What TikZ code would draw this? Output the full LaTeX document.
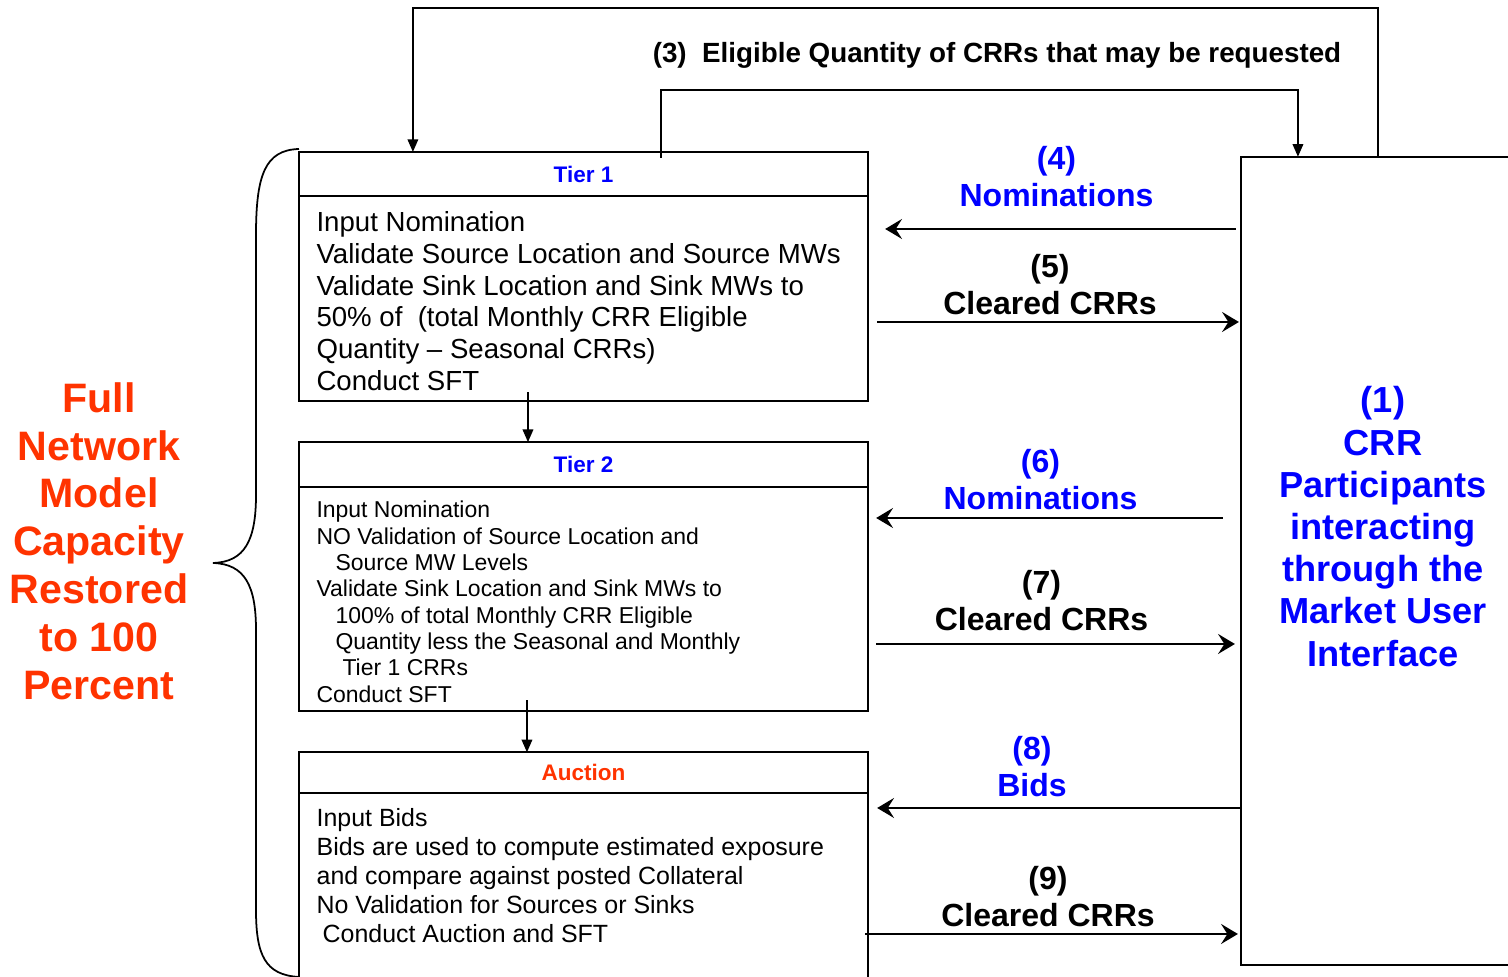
\documentclass[tikz,border=0pt]{standalone}
\usepackage{fontspec}
\setmainfont{Liberation Sans}
\usetikzlibrary{arrows.meta,positioning,calc}
\definecolor{crrblue}{RGB}{0,0,255}
\definecolor{crrred}{RGB}{255,51,0}

\begin{document}
\begin{tikzpicture}[x=0.01cm,y=-0.01cm,
    box/.style={draw,line width=0.6pt,minimum width=5.69cm,inner sep=0pt,outer sep=0pt},
    head/.style={box,font=\fontsize{6.4}{7}\selectfont\bfseries},
    bodytext/.style={align=left,inner sep=0pt,yshift=-0.025cm},
    lbl/.style={align=center,font=\fontsize{9.1}{10.5}\selectfont\bfseries},
    flow/.style={line width=0.5pt,-{Stealth[length=4.8pt,width=5.7pt,inset=1.8pt]}},
    drop/.style={line width=0.5pt,-{Triangle[length=3.6pt,width=3pt]}}]

  \useasboundingbox (0,0) rectangle (1508,977);

  % Tier 1
  \node[head,minimum height=0.44cm,text=crrblue] (t1head) at (583.5,174) {Tier 1};
  \node[box,minimum height=2.05cm,below=0pt of t1head] (t1body) {};
  \node[bodytext,font=\fontsize{7.85}{9.05}\selectfont,right=0.17cm of t1body.west] (t1txt)
    {Input Nomination\\
     Validate Source Location and Source MWs\\
     Validate Sink Location and Sink MWs to\\
     50\% of\ \ (total Monthly CRR Eligible\\
     Quantity -- Seasonal CRRs)\\
     Conduct SFT};

  % Tier 2
  \node[head,minimum height=0.45cm,text=crrblue,below=0.41cm of t1body] (t2head) {Tier 2};
  \node[box,minimum height=2.24cm,below=0pt of t2head] (t2body) {};
  \node[bodytext,font=\fontsize{6.53}{7.5}\selectfont,right=0.17cm of t2body.west] (t2txt)
    {Input Nomination\\
     NO Validation of Source Location and\\
     \hspace*{0.19cm}Source MW Levels\\
     Validate Sink Location and Sink MWs to\\
     \hspace*{0.19cm}100\% of total Monthly CRR Eligible\\
     \hspace*{0.19cm}Quantity less the Seasonal and Monthly\\
     \hspace*{0.26cm}Tier 1 CRRs\\
     Conduct SFT};

  % Auction
  \node[head,minimum height=0.41cm,text=crrred,below=0.41cm of t2body] (auchead) {Auction};
  \node[box,minimum height=2.2cm,below=0pt of auchead] (aucbody) {};
  \node[bodytext,font=\fontsize{7.09}{8.25}\selectfont,anchor=west] (auctxt) at (316,873)
    {Input Bids\\
     Bids are used to compute estimated exposure\\
     and compare against posted Collateral\\
     No Validation for Sources or Sinks\\
     \hspace*{0.06cm}Conduct Auction and SFT};

  % participants
  \node[draw,line width=0.5pt,minimum width=2.79cm,minimum height=8.08cm,inner sep=0pt,outer sep=0pt]
    (crr) at (1380.5,561) {};
  \node[align=center,text=crrblue,font=\fontsize{10.3}{12}\selectfont\bfseries] (crrtxt)
    at (1383,526.5) {(1)\\CRR\\Participants\\interacting\\through the\\Market User\\Interface};

  % left brace and label
  \draw[line width=0.5pt] (299,149) .. controls (265,150) and (256,175) .. (256,235)
    -- (256,495) .. controls (256,540) and (245,562) .. (213,563)
    .. controls (245,564) and (256,586) .. (256,630)
    -- (256,910) .. controls (256,955) and (265,975) .. (299,977);
  \node[align=center,text=crrred,font=\fontsize{11.7}{13.6}\selectfont\bfseries] (fullnet)
    at (99,541) {Full\\Network\\Model\\Capacity\\Restored\\to 100\\Percent};

  % eligible quantity loop
  \draw[drop] ([xshift=1.37cm]crr.north west) -- ++(0,-149) -| ([xshift=1.14cm]t1head.north west);
  \draw[drop,shorten <=-0.06cm] ([xshift=3.62cm]t1head.north west) -- ++(0,-62)
    -| ([xshift=0.57cm]crr.north west);
  \node[font=\fontsize{7.9}{9}\selectfont\bfseries] (elig) at (997,55)
    {(3)\ \ Eligible Quantity of CRRs that may be requested};

  % tier to tier
  \draw[drop,shorten <=-0.09cm] ([xshift=-0.555cm]t1body.south) -- ([xshift=-0.555cm]t2head.north);
  \draw[drop,shorten <=-0.11cm] ([xshift=-0.565cm]t2body.south) -- ([xshift=-0.565cm]auchead.north);

  % nominations, bids and cleared CRRs
  \draw[flow,shorten <=0.05cm,shorten >=0.17cm] (crr.west |- 0,229) -- (t1body.east |- 0,229);
  \draw[flow,shorten <=0.09cm,shorten >=0.02cm] (t1body.east |- 0,322) -- (crr.west |- 0,322);
  \draw[flow,shorten <=0.18cm,shorten >=0.08cm] (crr.west |- 0,518) -- (t2body.east |- 0,518);
  \draw[flow,shorten <=0.08cm,shorten >=0.06cm] (t2body.east |- 0,644) -- (crr.west |- 0,644);
  \draw[flow,shorten >=0.09cm] (crr.west |- 0,808) -- (aucbody.east |- 0,808);
  \draw[flow,shorten <=-0.03cm,shorten >=0.03cm] (aucbody.east |- 0,934) -- (crr.west |- 0,934);

  \node[lbl,text=crrblue] (nom4) at (1056.5,176.5) {(4)\\Nominations};
  \node[lbl] (clr5) at (1050,285) {(5)\\Cleared CRRs};
  \node[lbl,text=crrblue] (nom6) at (1040.5,480) {(6)\\Nominations};
  \node[lbl] (clr7) at (1041.5,600.5) {(7)\\Cleared CRRs};
  \node[lbl,text=crrblue] (bid8) at (1032,767) {(8)\\Bids};
  \node[lbl] (clr9) at (1048,896.5) {(9)\\Cleared CRRs};

\end{tikzpicture}
\end{document}
